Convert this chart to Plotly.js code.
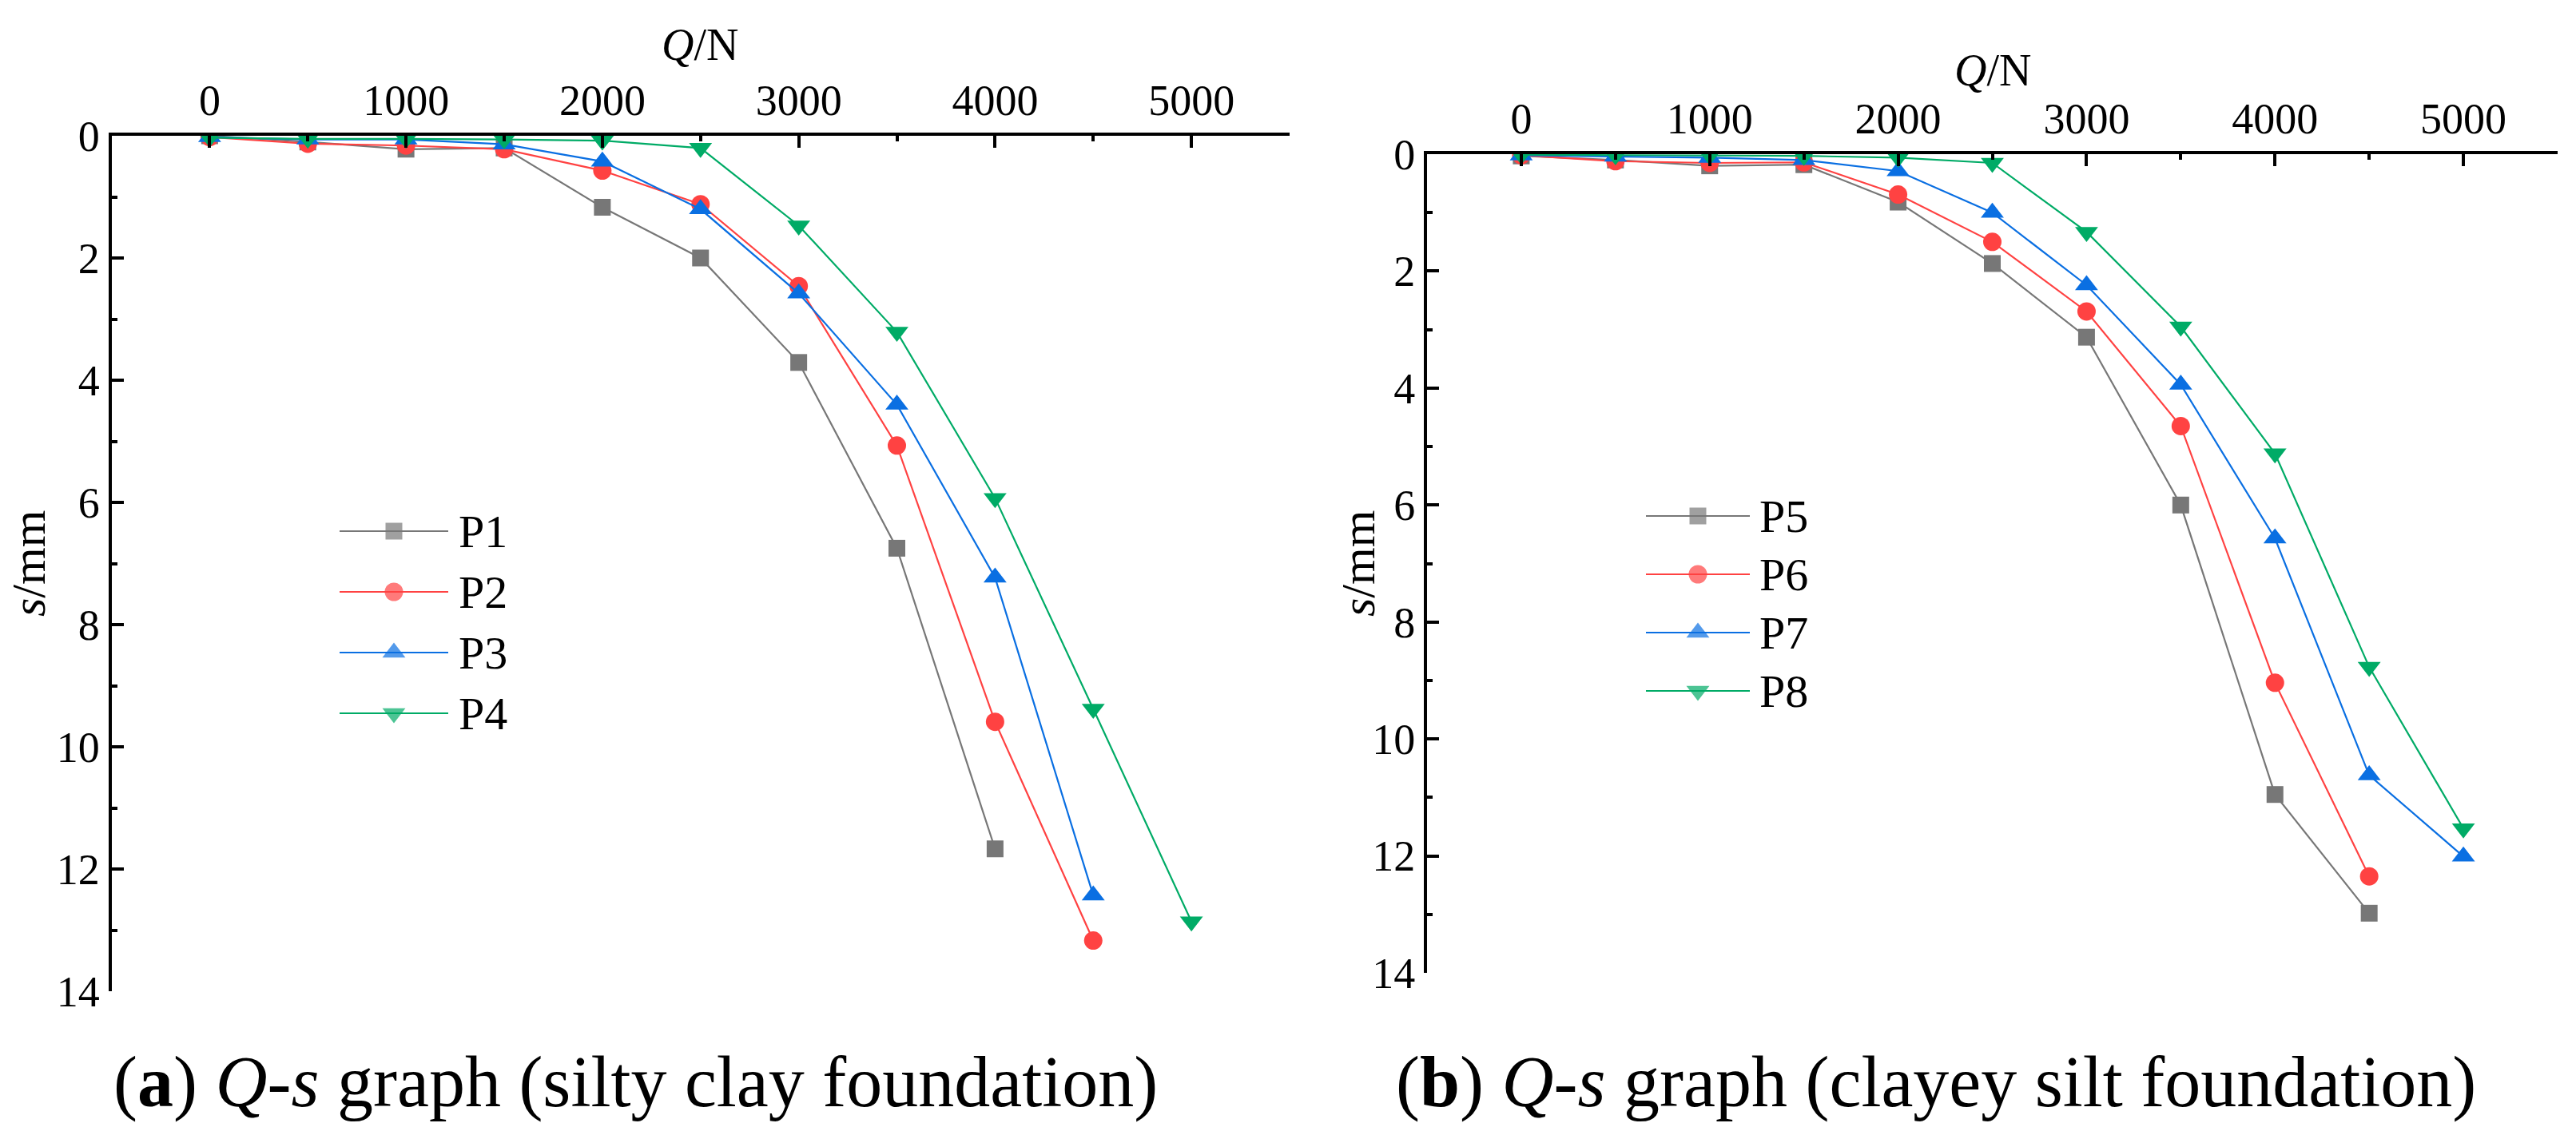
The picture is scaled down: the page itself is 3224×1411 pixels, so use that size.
<!DOCTYPE html>
<html>
<head>
<meta charset="utf-8">
<script src="https://cdn.plot.ly/plotly-3.0.1.min.js"></script>
<style>html,body{margin:0;padding:0;background:#fff;}#chart{width:3224px;height:1411px;}</style>
</head>
<body>
<div id="chart"></div>
<script>
// ---------- data ----------
var loadQ = [0, 500, 1000, 1500, 2000, 2500, 3000, 3500, 4000, 4500, 5000];
var xTickVals = [0, 1000, 2000, 3000, 4000, 5000];
var yTickVals = [0, 2, 4, 6, 8, 10, 12, 14];

// (a) silty clay foundation
var namesA = ['P1', 'P2', 'P3', 'P4'];
var sP1 = [0.00, 0.10, 0.22, 0.20, 1.17, 2.00, 3.71, 6.75, 11.67];
var sP2 = [0.02, 0.13, 0.16, 0.22, 0.57, 1.12, 2.46, 5.07, 9.59, 13.17];
var sP3 = [0.02, 0.06, 0.06, 0.14, 0.42, 1.20, 2.58, 4.40, 7.23, 12.43];
var sP4 = [0.03, 0.05, 0.05, 0.06, 0.08, 0.20, 1.47, 3.21, 5.93, 9.38, 12.86];

// (b) clayey silt foundation
var namesB = ['P5', 'P6', 'P7', 'P8'];
var sP5 = [0.03, 0.10, 0.20, 0.18, 0.82, 1.87, 3.13, 6.00, 10.95, 12.98];
var sP6 = [0.02, 0.12, 0.15, 0.14, 0.69, 1.50, 2.69, 4.65, 9.04, 12.35];
var sP7 = [0.02, 0.04, 0.06, 0.10, 0.29, 1.00, 2.24, 3.94, 6.57, 10.62, 12.01];
var sP8 = [0.01, 0.02, 0.02, 0.03, 0.06, 0.15, 1.33, 2.95, 5.12, 8.77, 11.53];

var xTitle = '<i>Q</i>/N';
var yTitle = '<i>s</i>/mm';
var captionA = '(<b>a</b>) <i>Q</i>-<i>s</i> graph (silty clay foundation)';
var captionB = '(<b>b</b>) <i>Q</i>-<i>s</i> graph (clayey silt foundation)';

// ---------- styles ----------
var W = 3224, H = 1411;
var FONT = 'Liberation Serif';
var colors = ['#777777', '#ff4242', '#0a6fe2', '#00ab66'];
var symbols = ['square', 'circle', 'triangle-up', 'triangle-down'];
var msizes = [21, 23, 25, 25];

var seriesA = [sP1, sP2, sP3, sP4];
var seriesB = [sP5, sP6, sP7, sP8];

var traces = [];
function addSeries(list, names, xa, ya) {
  list.forEach(function (s, i) {
    traces.push({
      type: 'scatter', mode: 'lines+markers', name: names[i],
      x: loadQ.slice(0, s.length), y: s,
      xaxis: xa, yaxis: ya,
      line: {color: colors[i], width: 2.2},
      marker: {symbol: symbols[i], size: msizes[i], color: colors[i], line: {width: 0}},
      showlegend: false, hoverinfo: 'x+y+name'
    });
  });
}
addSeries(seriesA, namesA, 'x', 'y');
addSeries(seriesB, namesB, 'x2', 'y2');

// manual legends drawn on a full-figure pixel overlay axis
var annotations = [];
function addLegend(names, x0, x1, rows, textX) {
  names.forEach(function (nm, i) {
    var xc = (x0 + x1) / 2;
    traces.push({
      type: 'scatter', mode: 'lines+markers', x: [x0, xc, x1], y: [rows[i], rows[i], rows[i]],
      xaxis: 'x3', yaxis: 'y3', showlegend: false, hoverinfo: 'skip',
      line: {color: colors[i], width: 2.2},
      marker: {symbol: symbols[i], size: [0, msizes[i], 0], color: colors[i], line: {width: 0}}
    });
    annotations.push({
      xref: 'x3', yref: 'y3', x: textX, y: rows[i], text: nm, showarrow: false,
      xanchor: 'left', yanchor: 'middle', font: {family: FONT, size: 58, color: '#000'}
    });
  });
}
addLegend(namesA, 425, 561, [665, 741, 817, 893], 572);
addLegend(namesB, 2060, 2190, [646, 719, 792, 865], 2200);

function pxAnn(x, y, text, size, angle) {
  annotations.push({xref: 'x3', yref: 'y3', x: x, y: y, text: text, showarrow: false,
    xanchor: 'center', yanchor: 'middle', textangle: angle || 0,
    font: {family: FONT, size: size, color: '#000'}});
}
// axis titles
pxAnn(876, 56, xTitle, 56);
pxAnn(2494, 88, xTitle, 56);
pxAnn(36, 706, yTitle, 60, -90);
pxAnn(1700, 706, yTitle, 60, -90);
// captions
pxAnn(795, 1355, captionA, 90);
pxAnn(2423, 1355, captionB, 90);

function xAxis(domain, anchor) {
  return {
    domain: domain, anchor: anchor, side: 'top', range: [-500, 5500],
    tickmode: 'array', tickvals: xTickVals,
    ticks: 'inside', ticklen: 15, tickwidth: 4, tickcolor: '#000',
    minor: {dtick: 500, tick0: 0, ticks: 'inside', ticklen: 7, tickwidth: 4, tickcolor: '#000', showgrid: false},
    showline: true, linewidth: 4, linecolor: '#000', showgrid: false, zeroline: false,
    tickfont: {family: FONT, size: 54, color: '#000'},
    fixedrange: true
  };
}
function yAxis(domain, anchor) {
  return {
    domain: domain, anchor: anchor, range: [14, 0],
    tickmode: 'array', tickvals: yTickVals,
    ticks: 'inside', ticklen: 15, tickwidth: 4, tickcolor: '#000',
    minor: {dtick: 1, tick0: 0, ticks: 'inside', ticklen: 7, tickwidth: 4, tickcolor: '#000', showgrid: false},
    showline: true, linewidth: 4, linecolor: '#000', showgrid: false, zeroline: false,
    tickfont: {family: FONT, size: 54, color: '#000'},
    fixedrange: true
  };
}

var layout = {
  width: W, height: H,
  margin: {l: 0, r: 0, t: 0, b: 0, autoexpand: false},
  paper_bgcolor: '#ffffff', plot_bgcolor: 'rgba(0,0,0,0)',
  showlegend: false,
  font: {family: FONT, color: '#000'},
  xaxis: xAxis([139.5 / W, 1614 / W], 'y'),
  yaxis: yAxis([1 - 1241 / H, 1 - 170 / H], 'x'),
  xaxis2: xAxis([1786 / W, 3201 / W], 'y2'),
  yaxis2: yAxis([1 - 1218 / H, 1 - 193 / H], 'x2'),
  xaxis3: {domain: [0, 1], range: [0, W], visible: false, anchor: 'y3', fixedrange: true},
  yaxis3: {domain: [0, 1], range: [H, 0], visible: false, anchor: 'x3', fixedrange: true},
  annotations: annotations
};

Plotly.newPlot('chart', traces, layout, {staticPlot: true, displayModeBar: false});
</script>
</body>
</html>
